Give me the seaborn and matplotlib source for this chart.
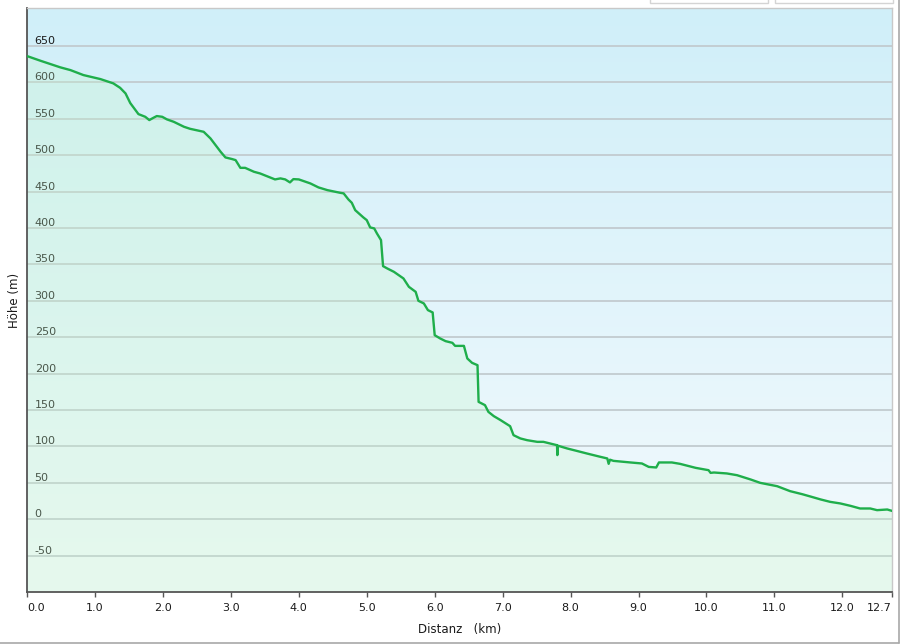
import numpy as np
import pandas as pd
import seaborn as sns
import matplotlib
matplotlib.use("Agg")
import matplotlib.pyplot as plt
from matplotlib.patches import Rectangle
from matplotlib.lines import Line2D

# ---------------- data ----------------
distance_km = [
    0.00, 0.20, 0.49, 0.64, 0.83, 1.08, 1.27, 1.37, 1.45, 1.52,
    1.64, 1.74, 1.80, 1.86, 1.91, 1.99, 2.06, 2.16, 2.31, 2.40,
    2.60, 2.70, 2.85, 2.92, 3.02, 3.07, 3.14, 3.21, 3.34, 3.43,
    3.65, 3.73, 3.80, 3.87, 3.92, 4.00, 4.17, 4.29, 4.42, 4.61,
    4.66, 4.73, 4.78, 4.83, 4.95, 5.00, 5.05, 5.11, 5.15, 5.21,
    5.24, 5.30, 5.40, 5.54, 5.62, 5.72, 5.76, 5.84, 5.90, 5.97,
    6.00, 6.08, 6.16, 6.26, 6.30, 6.43, 6.48, 6.55, 6.63, 6.646,
    6.74, 6.79, 6.87, 6.97, 7.11, 7.16, 7.26, 7.36, 7.51, 7.60,
    7.80, 7.805, 7.81, 7.95, 8.09, 8.24, 8.44, 8.54, 8.56, 8.58,
    8.63, 8.88, 9.05, 9.15, 9.26, 9.30, 9.49, 9.61, 9.84, 10.03,
    10.06, 10.11, 10.30, 10.45, 10.65, 10.79, 11.04, 11.23, 11.41, 11.55,
    11.68, 11.82, 11.97, 12.12, 12.26, 12.41, 12.51, 12.66, 12.73,
]
elevation_m = [
    636.0, 629.5, 620.5, 616.7, 609.9, 604.4, 598.5, 592.4, 584.7, 571.4,
    556.3, 552.6, 548.1, 551.2, 553.6, 552.6, 549.0, 545.7, 538.9, 536.1,
    532.0, 522.9, 504.5, 496.8, 494.5, 493.1, 482.5, 482.5, 477.1, 474.8,
    466.6, 468.0, 466.6, 462.5, 467.0, 466.6, 461.1, 455.6, 451.9, 448.2,
    447.4, 439.1, 434.5, 424.4, 414.4, 410.7, 400.7, 399.3, 392.4, 383.2,
    347.5, 344.4, 339.7, 330.6, 319.1, 312.2, 299.9, 296.3, 287.1, 283.9,
    252.7, 248.2, 244.5, 242.2, 238.0, 238.0, 220.7, 214.7, 211.5, 161.1,
    156.6, 147.4, 141.5, 136.0, 127.7, 115.4, 110.9, 108.5, 106.2, 106.2,
    101.6, 88.0, 101.0, 97.1, 93.8, 90.2, 85.6, 83.4, 76.0, 81.7,
    80.1, 77.9, 76.5, 71.8, 71.0, 77.9, 77.9, 76.0, 70.5, 67.3,
    63.6, 64.1, 62.8, 60.4, 54.5, 49.9, 45.3, 38.5, 34.3, 30.6,
    27.1, 23.8, 21.6, 18.3, 14.7, 14.7, 12.4, 13.3, 11.4,
]
x_ticks = [0, 1, 2, 3, 4, 5, 6, 7, 8, 9, 10, 11, 12, 12.73]
x_tick_labels = ["0.0", "1.0", "2.0", "3.0", "4.0", "5.0", "6.0", "7.0",
                 "8.0", "9.0", "10.0", "11.0", "12.0", "12.7"]
y_ticks = [-50, 0, 50, 100, 150, 200, 250, 300, 350, 400, 450, 500, 550, 600, 650]
y_tick_labels = ["-50", "0", "50", "100", "150", "200", "250", "300", "350",
                 "400", "450", "500", "550", "600", "650"]

df = pd.DataFrame({"Distanz": distance_km, "Hoehe": elevation_m})

# ---------------- figure ----------------
sns.set_theme(style="white")
plt.rcParams["font.family"] = ["DejaVu Sans"]

W, H = 900, 644
fig = plt.figure(figsize=(W / 100, H / 100), dpi=100)
fig.patch.set_facecolor("white")
pos = [27 / W, 1 - 592 / H, 865 / W, 584 / H]

# background gradient (sky blue -> near white)
bg = fig.add_axes(pos, zorder=0)
top = np.array([208, 239, 249]) / 255
bot = np.array([244, 250, 253]) / 255
t = np.linspace(0, 1, 256)[:, None]
grad = (top[None, :] * (1 - t) + bot[None, :] * t)[:, None, :]
bg.imshow(grad, aspect="auto", extent=[0, 1, 0, 1], origin="upper")
bg.set_axis_off()

ax = fig.add_axes(pos, zorder=1)
ax.set_facecolor("none")

x_min, x_max = 0, 12.73
y_min, y_max = -100, 702

ax.fill_between(df["Distanz"], df["Hoehe"], y_min,
                color=(196 / 255, 246 / 255, 201 / 255), alpha=0.28, lw=0, zorder=1)
sns.lineplot(data=df, x="Distanz", y="Hoehe", ax=ax, color="#1fae4b",
             lw=1.7, sort=False, estimator=None, zorder=3)

ax.set_xlim(x_min, x_max)
ax.set_ylim(y_min, y_max)

# grid
ax.set_yticks(y_ticks)
ax.set_yticklabels(y_tick_labels, fontsize=8, color="#1a1a1a")
ax.grid(axis="y", color="#c2cbcf", lw=1.3, zorder=0)
ax.grid(axis="x", visible=False)
ax.set_axisbelow(True)

# y tick labels inside the plot, sitting on the gridlines
ax.tick_params(axis="y", length=0, pad=-5.5)
for lab in ax.get_yticklabels():
    lab.set_horizontalalignment("left")
    lab.set_verticalalignment("bottom")

# x ticks
ax.set_xticks(x_ticks)
ax.set_xticklabels(x_tick_labels, fontsize=8, color="#1a1a1a")
ax.tick_params(axis="x", length=3.8, width=1, color="#555555", pad=4, bottom=True)
xl = ax.get_xticklabels()
xl[0].set_horizontalalignment("left")
xl[-1].set_horizontalalignment("right")

ax.set_xlabel("Distanz   (km)", fontsize=8.5, color="#1a1a1a", labelpad=7)
ax.set_ylabel("Höhe (m)", fontsize=8.5, color="#1a1a1a", labelpad=4)

for side in ["left", "bottom"]:
    ax.spines[side].set_color("#555555")
    ax.spines[side].set_linewidth(1.3)
for side in ["top", "right"]:
    ax.spines[side].set_color("#c8c8c8")
    ax.spines[side].set_linewidth(1.0)

# outer frame lines (bottom + right) and top-right buttons
fig.add_artist(Line2D([0, 898.5 / W], [1 - 642.5 / H] * 2, transform=fig.transFigure,
                      color="#a8a8a8", lw=1.2))
fig.add_artist(Line2D([898.5 / W] * 2, [1 - 642.5 / H, 1], transform=fig.transFigure,
                      color="#a8a8a8", lw=1.2))
for x0, x1 in [(650, 768), (775, 893)]:
    fig.add_artist(Rectangle((x0 / W, 1 - 2.5 / H), (x1 - x0) / W, 10 / H,
                             transform=fig.transFigure, facecolor="white",
                             edgecolor="#d4d4d4", lw=1.0, clip_on=False))

fig.savefig("out.png", dpi=100)
